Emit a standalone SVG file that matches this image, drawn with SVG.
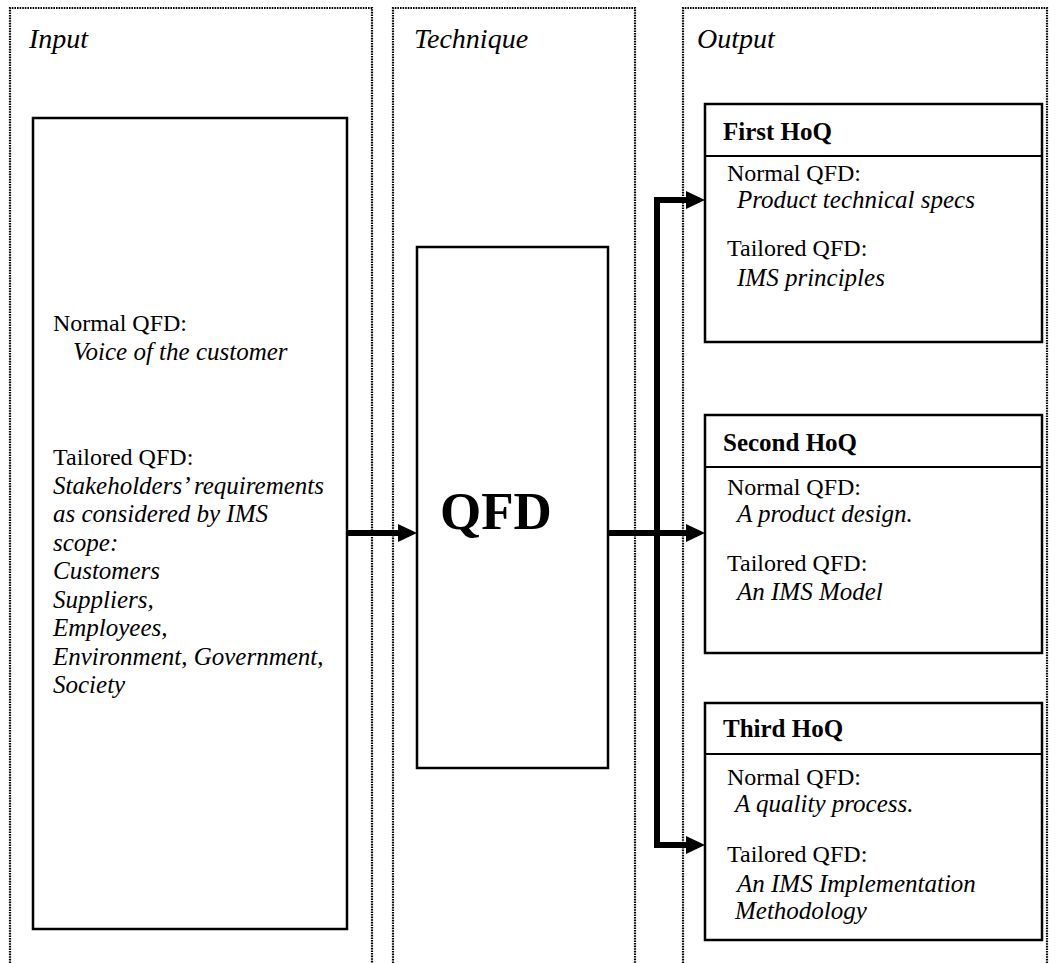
<svg xmlns="http://www.w3.org/2000/svg" width="1057" height="963" viewBox="0 0 1057 963">
  <style>
    text { font-family: "Liberation Serif", "Times New Roman", Tinos, "Nimbus Roman", "DejaVu Serif", serif; fill: #000; }
    .lane { fill: none; stroke: #000; stroke-width: 2.2; stroke-dasharray: 1.6 1; }
    .box { fill: #fff; stroke: #000; stroke-width: 2.5; }
    .sep { stroke: #000; stroke-width: 2; }
    .lane-title { font-style: italic; font-size: 28px; }
    .t { font-size: 24px; }
    .ti { font-style: italic; font-size: 25px; }
    .tb { font-weight: bold; font-size: 25px; }
    .big { font-weight: bold; font-size: 53px; }
    .flow { fill: none; stroke: #000; stroke-width: 6; stroke-linejoin: miter; }
  </style>
  <defs>
    <marker id="head" viewBox="0 0 19 18" refX="1" refY="9" markerWidth="19" markerHeight="18" markerUnits="userSpaceOnUse" orient="auto-start-reverse">
      <path d="M0,0 L19,9 L0,18 Z" fill="#000"/>
    </marker>
  </defs>
  <rect width="1057" height="963" fill="#fff"/>

  <!-- dotted swim lanes, open at the bottom -->
  <g id="lanes">
    <path class="lane" d="M10,963 V8 H372 V963"/>
    <path class="lane" d="M393,963 V8 H635 V963"/>
    <path class="lane" d="M683,963 V8 H1047 V963"/>
    <text class="lane-title" x="29" y="48">Input</text>
    <text class="lane-title" x="414" y="48">Technique</text>
    <text class="lane-title" x="697" y="48">Output</text>
  </g>

  <!-- input box -->
  <g id="input">
    <rect class="box" x="33" y="118" width="314" height="811"/>
    <text class="t" x="53" y="331">Normal QFD:</text>
    <text class="ti" x="73" y="360">Voice of the customer</text>
    <text class="t" x="53" y="465">Tailored QFD:</text>
    <text class="ti" x="53" y="494">Stakeholders’ requirements</text>
    <text class="ti" x="53" y="522">as considered by IMS</text>
    <text class="ti" x="53" y="551">scope:</text>
    <text class="ti" x="53" y="579">Customers</text>
    <text class="ti" x="53" y="608">Suppliers,</text>
    <text class="ti" x="53" y="636">Employees,</text>
    <text class="ti" x="53" y="665">Environment, Government,</text>
    <text class="ti" x="53" y="693">Society</text>
  </g>

  <!-- technique box -->
  <g id="technique">
    <rect class="box" x="417" y="247" width="191" height="521"/>
    <text class="big" x="440" y="529">QFD</text>
  </g>

  <!-- output boxes -->
  <g id="first-hoq">
    <rect class="box" x="705" y="104" width="337" height="238"/>
    <line class="sep" x1="705" y1="156" x2="1042" y2="156"/>
    <text class="tb" x="723" y="140">First HoQ</text>
    <text class="t" x="727" y="181">Normal QFD:</text>
    <text class="ti" x="737" y="208">Product technical specs</text>
    <text class="t" x="727" y="256">Tailored QFD:</text>
    <text class="ti" x="737" y="286">IMS principles</text>
  </g>
  <g id="second-hoq">
    <rect class="box" x="705" y="415" width="337" height="238"/>
    <line class="sep" x1="705" y1="467" x2="1042" y2="467"/>
    <text class="tb" x="723" y="451">Second HoQ</text>
    <text class="t" x="727" y="495">Normal QFD:</text>
    <text class="ti" x="737" y="522">A product design.</text>
    <text class="t" x="727" y="571">Tailored QFD:</text>
    <text class="ti" x="737" y="600">An IMS Model</text>
  </g>
  <g id="third-hoq">
    <rect class="box" x="705" y="703" width="337" height="237"/>
    <line class="sep" x1="705" y1="754" x2="1042" y2="754"/>
    <text class="tb" x="723" y="737">Third HoQ</text>
    <text class="t" x="727" y="785">Normal QFD:</text>
    <text class="ti" x="735" y="812">A quality process.</text>
    <text class="t" x="727" y="862">Tailored QFD:</text>
    <text class="ti" x="737" y="892">An IMS Implementation</text>
    <text class="ti" x="735" y="919">Methodology</text>
  </g>

  <!-- connectors -->
  <g id="connectors">
    <path class="flow" d="M347,533 H399" marker-end="url(#head)"/>
    <path class="flow" d="M608,533 H687" marker-end="url(#head)"/>
    <path class="flow" d="M687,200 H657 V845 H687" marker-start="url(#head)" marker-end="url(#head)"/>
  </g>
</svg>
